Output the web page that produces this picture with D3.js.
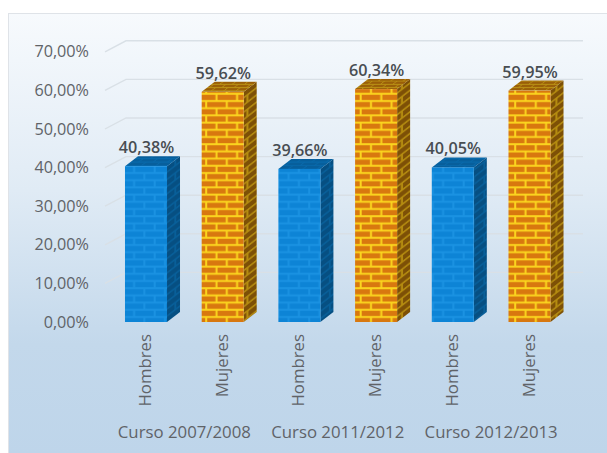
<!DOCTYPE html>
<html>
<head>
<meta charset="utf-8">
<script src="https://cdn.jsdelivr.net/npm/d3@7"></script>
<style>
html,body{margin:0;padding:0;background:#fff}
svg{display:block}
text{font-family:"Open Sans",sans-serif}
</style>
</head>
<body>
<svg id="chart" width="607" height="453"></svg>
<script>
// Share of students by sex in each academic year
const courses = ["Curso 2007/2008", "Curso 2011/2012", "Curso 2012/2013"];
const sexes = ["Hombres", "Mujeres"];
const hombres = [40.38, 39.66, 40.05];
const mujeres = [59.62, 60.34, 59.95];
const yTicks = [0, 10, 20, 30, 40, 50, 60, 70];

const fmt = v => v.toFixed(2).replace(".", ",") + "%";
const rows = courses.flatMap((c, i) => [
  {course: c, sex: sexes[0], value: hombres[i], id: c + sexes[0]},
  {course: c, sex: sexes[1], value: mujeres[i], id: c + sexes[1]}
]);

const svg = d3.select("#chart");
const defs = svg.append("defs");

// Panel background
const grad = defs.append("linearGradient").attr("id", "panel").attr("x1", 0).attr("y1", 0).attr("x2", 0).attr("y2", 1);
grad.append("stop").attr("offset", "0%").attr("stop-color", "#f7fafd");
grad.append("stop").attr("offset", "40%").attr("stop-color", "#e0ebf5");
grad.append("stop").attr("offset", "75%").attr("stop-color", "#c3d8eb");
grad.append("stop").attr("offset", "100%").attr("stop-color", "#bed5ea");

// Brick texture for each face of a bar
function brick(id, brickColor, mortar, transform) {
  const p = defs.append("pattern").attr("id", id).attr("patternUnits", "userSpaceOnUse")
    .attr("width", 20.6).attr("height", 14.4);
  if (transform) p.attr("patternTransform", transform);
  p.append("rect").attr("width", 20.6).attr("height", 14.4).attr("fill", mortar);
  [[1.2, 1.2, 18.6], [-9.1, 8.4, 18.6], [11.5, 8.4, 18.6]].forEach(([x, y, w]) =>
    p.append("rect").attr("x", x).attr("y", y).attr("width", w).attr("height", 5.2).attr("fill", brickColor));
}
brick("frontMujeres", "#d8780f", "#fbd51e");
brick("sideMujeres", "#7d5006", "#b58c10", "skewY(-38)");
brick("topMujeres", "#9a5f08", "#b98f14", "skewX(-52) scale(.6,.45)");
brick("frontHombres", "#0d84d6", "#1a92e2");
brick("sideHombres", "#064f82", "#085f99", "skewY(-38)");
brick("topHombres", "#075f9c", "#0869ab", "skewX(-52) scale(.7,.5)");

svg.append("rect").attr("x", 8.5).attr("y", 13.5).attr("width", 600).attr("height", 441)
  .attr("fill", "url(#panel)").attr("stroke", "#dfe3e8");

const x = d3.scaleBand().domain(rows.map(d => d.id)).range([105.8, 569.7]).paddingInner(0.452).paddingOuter(0.25);
const y = d3.scaleLinear().domain([0, 70]).range([322, 51.8]);
const depthX = 13, depthY = 10, wallX = 21, wallY = 11;

// Back-wall gridlines with their short return along the side wall
const grid = svg.append("g").attr("fill", "none").attr("stroke", "#d9e0e6").attr("stroke-width", 1.4);
grid.selectAll("path").data(yTicks.filter(t => t > 0)).join("path")
  .attr("d", t => d3.line()([[105, y(t)], [105 + wallX, y(t) - wallY], [583, y(t) - wallY]]));

// Value axis, labels only
const yAxis = svg.append("g").attr("transform", "translate(95,0)")
  .call(d3.axisLeft(y).tickValues(yTicks).tickSize(0).tickPadding(6).tickFormat(fmt));
yAxis.select(".domain").remove();
yAxis.selectAll("text").attr("font-size", 16.2).attr("fill", "#5f6368")
  .style("font-family", '"Open Sans",sans-serif');

// Bars: side, top, then front face
const bars = svg.append("g").selectAll("g").data(rows).join("g");
bars.append("path").attr("fill", d => `url(#side${d.sex})`)
  .attr("d", d => {
    const r = x(d.id) + x.bandwidth();
    return d3.line()([[r, y(d.value)], [r + depthX, y(d.value) - depthY], [r + depthX, y(0) - depthY], [r, y(0)]]) + "Z";
  });
bars.append("path").attr("fill", d => `url(#top${d.sex})`)
  .attr("d", d => {
    const l = x(d.id), r = l + x.bandwidth(), t = y(d.value);
    return d3.line()([[l, t], [l + depthX, t - depthY], [r + depthX, t - depthY], [r, t]]) + "Z";
  });
bars.append("rect").attr("fill", d => `url(#front${d.sex})`)
  .attr("x", d => x(d.id)).attr("y", d => y(d.value))
  .attr("width", x.bandwidth()).attr("height", d => y(0) - y(d.value));

// Value labels above each bar
svg.append("g").selectAll("text").data(rows).join("text")
  .attr("x", d => x(d.id) + x.bandwidth() / 2 + 0.5)
  .attr("y", d => y(d.value) - 13)
  .attr("text-anchor", "middle").attr("font-size", 16.2).attr("font-weight", 600)
  .attr("fill", "#484d52").text(d => fmt(d.value));

// Sex labels, rotated under each bar
svg.append("g").selectAll("text").data(rows).join("text")
  .attr("transform", d => `translate(${x(d.id) + x.bandwidth() / 2 + 5},334) rotate(-90)`)
  .attr("text-anchor", "end").attr("font-size", 16.8).attr("fill", "#5f6368")
  .text(d => d.sex);

// Course labels, centred under each pair of bars
svg.append("g").selectAll("text").data(courses).join("text")
  .attr("x", (c, i) => (x(c + sexes[0]) + x(c + sexes[1]) + x.bandwidth()) / 2)
  .attr("y", 438).attr("text-anchor", "middle").attr("font-size", 16.8).attr("fill", "#5f6368")
  .text(c => c);
</script>
</body>
</html>
